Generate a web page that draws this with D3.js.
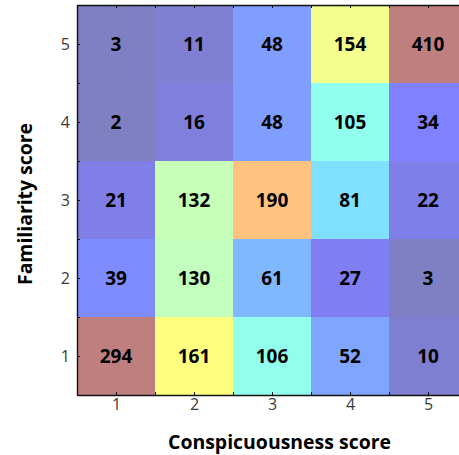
<!DOCTYPE html>
<html>
<head>
<meta charset="utf-8">
<script src="https://cdn.jsdelivr.net/npm/d3@7"></script>
<style>
  html, body { margin: 0; padding: 0; background: #fff; overflow: hidden; }
  svg { display: block; }
</style>
</head>
<body>
<svg id="chart" width="459" height="455"></svg>
<script>
// Score levels on each axis
const conspicuousness = [1, 2, 3, 4, 5];
const familiarity = [1, 2, 3, 4, 5];

// Counts per familiarity row (row order: familiarity 5 down to 1),
// columns follow conspicuousness 1..5
const rowF5 = [3, 11, 48, 154, 410];
const rowF4 = [2, 16, 48, 105, 34];
const rowF3 = [21, 132, 190, 81, 22];
const rowF2 = [39, 130, 61, 27, 3];
const rowF1 = [294, 161, 106, 52, 10];

const rows = [
  { f: 5, values: rowF5 },
  { f: 4, values: rowF4 },
  { f: 3, values: rowF3 },
  { f: 2, values: rowF2 },
  { f: 1, values: rowF1 }
];

const tickSteps = [0.5, 1, 1.5, 2, 2.5, 3, 3.5, 4, 4.5, 5, 5.5];
const xTitle = "Conspicuousness score";
const yTitle = "Familiarity score";

const cells = [];
rows.forEach(r => r.values.forEach((v, i) => cells.push({ c: conspicuousness[i], f: r.f, v })));

// Jet colour map indexed directly by count (256 entries, values above clip)
function jet(v) {
  const t = (Math.min(Math.max(v, 1), 256) - 1) / 255;
  const ch = k => Math.max(0, Math.min(1, 1.5 - Math.abs(4 * t - k)));
  return d3.rgb(ch(3) * 255, ch(2) * 255, ch(1) * 255);
}

const svg = d3.select("#chart");
const plotLeft = 77, plotRight = 467, plotTop = 5, plotBottom = 395;

const x = d3.scaleLinear().domain([0.5, 5.5]).range([plotLeft, plotRight]);
const y = d3.scaleLinear().domain([0.5, 5.5]).range([plotBottom, plotTop]);

const font = "'Open Sans', 'DejaVu Sans', sans-serif";

// Heatmap cells, drawn half-transparent over white
svg.append("g")
  .selectAll("rect")
  .data(cells)
  .join("rect")
  .attr("x", d => x(d.c - 0.5))
  .attr("y", d => y(d.f + 0.5))
  .attr("width", d => x(d.c + 0.5) - x(d.c - 0.5))
  .attr("height", d => y(d.f - 0.5) - y(d.f + 0.5))
  .attr("fill", d => jet(d.v))
  .attr("fill-opacity", 0.5);

// Count labels
svg.append("g")
  .selectAll("text")
  .data(cells)
  .join("text")
  .attr("x", d => x(d.c))
  .attr("y", d => y(d.f))
  .attr("text-anchor", "middle")
  .attr("dominant-baseline", "central")
  .attr("font-family", font)
  .attr("font-weight", 700)
  .attr("font-size", 19)
  .attr("fill", "#000")
  .text(d => d.v);

// Axes: inward ticks at every half step, labels on integers only
const fmt = d => Number.isInteger(d) ? d : "";

function styleAxis(g) {
  g.attr("font-size", null).attr("font-family", null);
  g.select(".domain").attr("stroke", "#111").attr("stroke-width", 1.4);
  g.selectAll(".tick line").attr("stroke", "#111").attr("stroke-width", 1);
  g.selectAll(".tick text")
    .attr("font-family", font)
    .attr("font-size", 16)
    .attr("fill", "#3a3a3a");
}

svg.append("g")
  .attr("transform", `translate(0,${plotBottom})`)
  .call(d3.axisBottom(x).tickValues(tickSteps).tickFormat(fmt).tickSizeInner(-3).tickSizeOuter(0).tickPadding(4))
  .call(styleAxis);

svg.append("g")
  .attr("transform", `translate(0,${plotTop})`)
  .call(d3.axisTop(x).tickValues(tickSteps).tickFormat("").tickSizeInner(-3).tickSizeOuter(0))
  .call(styleAxis);

svg.append("g")
  .attr("transform", `translate(${plotLeft},0)`)
  .call(d3.axisLeft(y).tickValues(tickSteps).tickFormat(fmt).tickSizeInner(-3).tickSizeOuter(0).tickPadding(7))
  .call(styleAxis);

svg.append("g")
  .attr("transform", `translate(${plotRight},0)`)
  .call(d3.axisRight(y).tickValues(tickSteps).tickFormat("").tickSizeInner(-3).tickSizeOuter(0))
  .call(styleAxis);

// Axis titles
svg.append("text")
  .attr("x", 279.5)
  .attr("y", 449)
  .attr("text-anchor", "middle")
  .attr("font-family", font)
  .attr("font-weight", 700)
  .attr("font-size", 19)
  .attr("textLength", 223)
  .attr("lengthAdjust", "spacingAndGlyphs")
  .text(xTitle);

svg.append("text")
  .attr("transform", "translate(32,204) rotate(-90)")
  .attr("text-anchor", "middle")
  .attr("font-family", font)
  .attr("font-weight", 700)
  .attr("font-size", 19)
  .attr("textLength", 162)
  .attr("lengthAdjust", "spacingAndGlyphs")
  .text(yTitle);
</script>
</body>
</html>
